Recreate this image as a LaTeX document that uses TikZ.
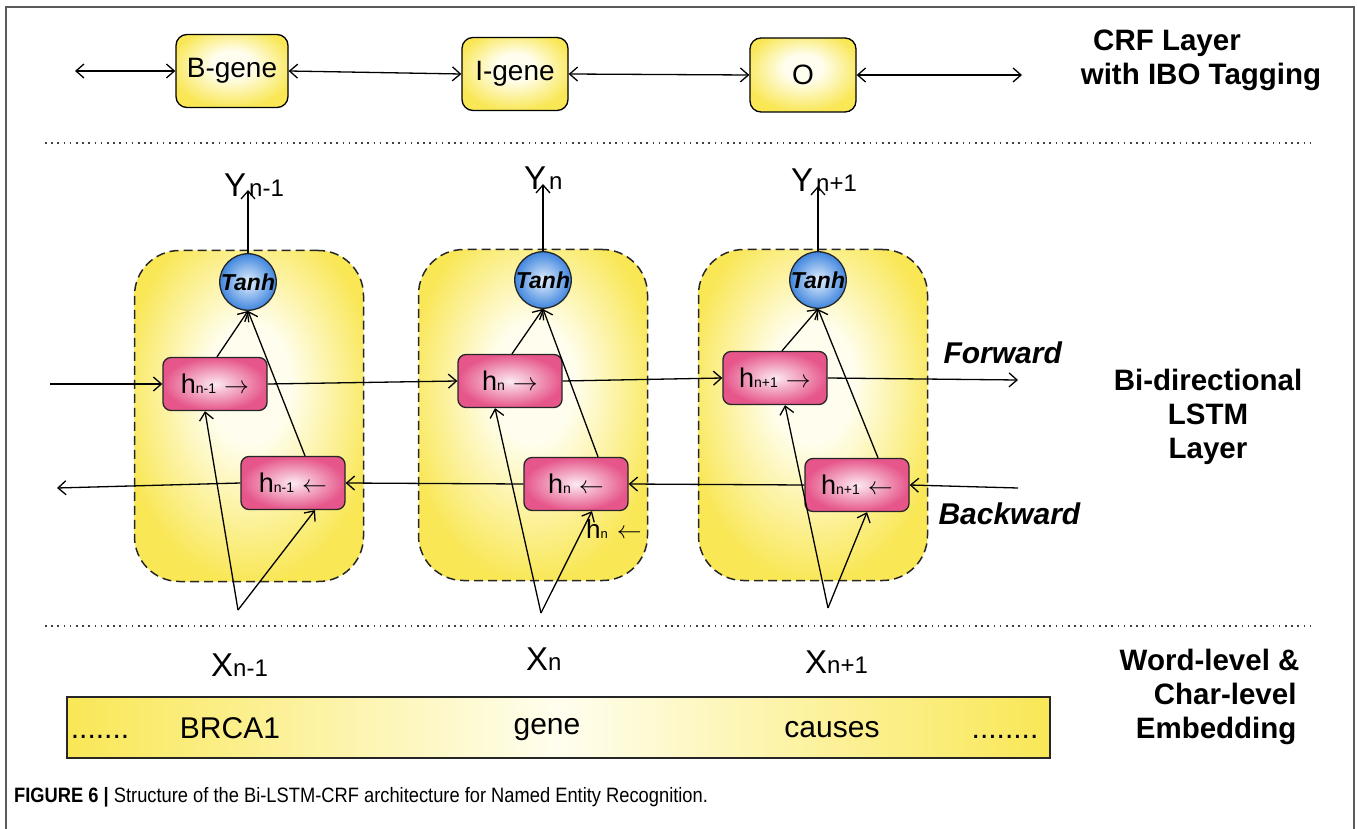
\documentclass[tikz,border=0pt]{standalone}
\usepackage{fontspec}
\setmainfont{Liberation Sans}
\newfontfamily\narrowsf[FakeStretch=0.88]{Liberation Sans}
\usetikzlibrary{arrows.meta}
\definecolor{ylwout}{RGB}{249,231,86}
\definecolor{ylwin}{RGB}{255,254,238}
\definecolor{pinkout}{RGB}{230,86,138}
\definecolor{pinkin}{RGB}{252,234,242}
\definecolor{blueout}{RGB}{64,134,222}
\definecolor{bluein}{RGB}{228,240,253}
\definecolor{framegray}{RGB}{90,90,90}
\newcommand{\setfs}[1]{\fontsize{#1}{#1}\selectfont}
% soft glow: light plateau slightly above centre, yellow towards the rim
\pgfdeclareradialshading{softglow}{\pgfpoint{0bp}{6bp}}{%
  color(0bp)=(ylwin); color(9bp)=(ylwin); color(28bp)=(ylwout); color(50bp)=(ylwout)}
\begin{document}
\begin{tikzpicture}[x=1pt,y=-1pt,
  tip/.tip={Straight Barb[length=8pt,width=14pt]},
  arr/.style={-tip, line width=1.3pt},
  biarr/.style={tip-tip, line width=1.3pt},
  crfbox/.style={draw, line width=1.3pt, rounded corners=11pt, shading=softglow,
    minimum height=73pt, font=\setfs{28}},
  cellbox/.style={draw=black!85, line width=1.5pt, dash pattern=on 9pt off 5pt,
    rounded corners=45pt, shading=softglow, minimum width=229pt, minimum height=331pt},
  hcell/.style={draw=black!85, line width=1.3pt, rounded corners=8pt, shading=radial,
    inner color=pinkin, outer color=pinkout, minimum width=104pt, minimum height=53pt},
  tanhnode/.style={circle, draw=black!85, line width=1.3pt, shading=radial,
    inner color=bluein, outer color=blueout, minimum size=54pt, inner sep=0pt,
    font=\bfseries\itshape\setfs{23}},
  dots/.style={line width=1.6pt, black!75, dash pattern=on 1.6pt off 4.6pt},
  side/.style={font=\bfseries\setfs{29.5}},
  word/.style={font=\setfs{30}, anchor=base},
  sub/.style={anchor=base west, inner sep=0pt},
]
\useasboundingbox (0,0) rectangle (1358,829);
% outer frame
\draw[framegray, line width=1.2pt] (6,829) -- (6,7) -- (1354,7) -- (1354,829);

% ---------- CRF layer ----------
\node[crfbox, minimum width=112pt] (bg) at (232,71) {B-gene};
\node[crfbox, minimum width=106pt] (ig) at (515,74) {I-gene};
\node[crfbox, minimum width=106pt, minimum height=74pt] (og) at (803,75) {O};
\coordinate (crfL) at (75,71);
\coordinate (crfR) at (1022,75);
\draw[biarr] (crfL) -- (bg.west);
\draw[biarr] (bg.east) -- (ig.west);
\draw[biarr] (ig.east) -- (og.west);
\draw[biarr] (og.east) -- (crfR);
\node[side, anchor=base] (crfa) at (1167,51) {CRF Layer};
\node[side, anchor=base] (crfb) at (1201,85) {with IBO Tagging};

% separators
\coordinate (s1a) at (45,143); \coordinate (s1b) at (1313,143);
\coordinate (s2a) at (45,626); \coordinate (s2b) at (1313,626);
\draw[dots] (s1a) -- (s1b);
\draw[dots] (s2a) -- (s2b);

% ---------- LSTM cells ----------
\node[cellbox] (c1) at (249,416) {};
\node[cellbox] (c2) at (533,415) {};
\node[cellbox] (c3) at (813,415) {};

\node[tanhnode] (t1) at (248,282) {Tanh};
\node[tanhnode] (t2) at (543,280) {Tanh};
\node[tanhnode] (t3) at (818,280) {Tanh};

\node[hcell] (f1) at (215,384) {{\setfs{27}h}{\setfs{14}n-1}\hspace{8pt}{\setfs{26}$\rightarrow$}};
\node[hcell] (b1) at (293,483) {{\setfs{27}h}{\setfs{14}n-1}\hspace{8pt}{\setfs{26}$\leftarrow$}};
\node[hcell] (f2) at (510,381) {{\setfs{27}h}{\setfs{14}n}\hspace{8pt}{\setfs{26}$\rightarrow$}};
\node[hcell] (b2) at (576,484) {{\setfs{27}h}{\setfs{14}n}\hspace{8pt}{\setfs{26}$\leftarrow$}};
\node[hcell] (f3) at (775,378) {{\setfs{27}h}{\setfs{14}n+1}\hspace{8pt}{\setfs{26}$\rightarrow$}};
\node[hcell] (b3) at (857,485) {{\setfs{27}h}{\setfs{14}n+1}\hspace{8pt}{\setfs{26}$\leftarrow$}};
\node[sub] (hx) at (586,538) {{\setfs{26}h}{\setfs{13}n}\hspace{9pt}{\setfs{24}$\leftarrow$}};

% outputs
\node[sub] (y1) at (224,197) {{\setfs{33}Y}\hspace{3pt}{\setfs{24}n-1}};
\node[sub] (y2) at (524,190) {{\setfs{33}Y}\hspace{3pt}{\setfs{24}n}};
\node[sub] (y3) at (791,192) {{\setfs{33}Y}\hspace{3pt}{\setfs{24}n+1}};
\coordinate (y1tip) at (248,190);
\coordinate (y2tip) at (543,184);
\coordinate (y3tip) at (818,186);
\draw[arr] (t1.north) -- (y1tip);
\draw[arr] (t2.north) -- (y2tip);
\draw[arr] (t3.north) -- (y3tip);

% h -> tanh
\draw[arr] ([xshift=2pt]f1.north) -- (t1.south);
\draw[arr] ([xshift=12pt]b1.north) -- (t1.south);
\draw[arr] ([xshift=2pt]f2.north) -- (t2.south);
\draw[arr] ([xshift=22pt]b2.north) -- (t2.south);
\draw[arr] ([xshift=7pt]f3.north) -- (t3.south);
\draw[arr] ([xshift=21pt]b3.north) -- (t3.south);

% forward chain
\coordinate (fin) at (50,384);
\coordinate (fout) at (1018,380);
\draw[arr] (fin) -- (f1.west);
\draw[arr] (f1.east) -- (f2.west);
\draw[arr] (f2.east) -- (f3.west);
\draw[arr] (f3.east) -- (fout);
% backward chain
\coordinate (bin) at (1018,488);
\coordinate (bout) at (57,488);
\draw[arr] (bin) -- (b3.east);
\draw[arr] (b3.west) -- (b2.east);
\draw[arr] (b2.west) -- (b1.east);
\draw[arr] (b1.west) -- (bout);
\node[font=\bfseries\itshape\setfs{30}, anchor=base west] (fwd) at (940,363) {Forward};
\node[font=\bfseries\itshape\setfs{30}, anchor=base west] (bwd) at (935,524) {Backward};

% inputs
\coordinate (a1) at (238,610);
\coordinate (a2) at (541,613);
\coordinate (a3) at (828,608);
\draw[arr] (a1) -- ([xshift=-10pt]f1.south);
\draw[arr] (a1) -- ([xshift=22pt]b1.south);
\draw[arr] (a2) -- ([xshift=-15pt]f2.south);
\draw[arr] (a2) -- ([xshift=16pt]b2.south);
\draw[arr] (a3) -- ([xshift=10pt]f3.south);
\draw[arr] (a3) -- ([xshift=10pt]b3.south);

\node[side, anchor=base] (bil1) at (1208,390) {Bi-directional};
\node[side, anchor=base] (bil2) at (1208,424) {LSTM};
\node[side, anchor=base] (bil3) at (1208,458) {Layer};

% ---------- embedding ----------
\node[sub] (x1) at (211,676) {{\setfs{33}X}{\setfs{24}n-1}};
\node[sub] (x2) at (526,670) {{\setfs{33}X}{\setfs{24}n}};
\node[sub] (x3) at (805,673) {{\setfs{33}X}{\setfs{24}n+1}};

\node[draw=black!85, line width=1.5pt, left color=ylwout, right color=ylwout, middle color=ylwin,
  minimum width=983pt, minimum height=61pt, inner sep=0pt] (emb) at (558.5,727.5) {};
\node[word] (e0) at (100,738) {.......};
\node[word] (e1) at (230,738) {BRCA1};
\node[word] (e2) at (547,734) {gene};
\node[word] (e3) at (832,737) {causes};
\node[word] (e4) at (1005,738) {........};

\node[side, anchor=base east] (wl1) at (1303,670) {Word-level \&};
\node[side, anchor=base east] (wl2) at (1300,704) {Char-level};
\node[side, anchor=base east] (wl3) at (1300,738) {Embedding};

% caption
\node[sub, font=\narrowsf\setfs{20.8}] (cap) at (14,802)
  {\textbf{FIGURE 6 |} Structure of the Bi-LSTM-CRF architecture for Named Entity Recognition.};
\end{tikzpicture}
\end{document}
